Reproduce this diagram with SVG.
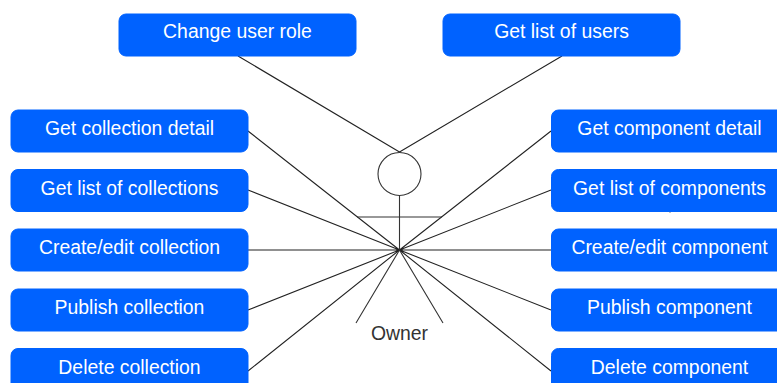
<svg xmlns="http://www.w3.org/2000/svg" width="777" height="383" viewBox="0 0 777 383">
<style>
.b{fill:#0062ff;stroke:#0062ff;stroke-width:1}
.t{fill:#fff;font:19.4px "Liberation Sans",Arial,sans-serif;text-anchor:middle}
.l{stroke:#222;stroke-width:1.1;fill:none}
</style>
<rect width="777" height="383" fill="#fff"/>
<g id="connectors" class="l">
<path d="M238 56L399.500 152M562 56L399.500 152M248 131L399.500 250M248 190L399.500 250M248 250H399.500M248 310L399.500 250M248 371L399.500 250M551 131L399.500 250M551 190L399.500 250M551 250H399.500M551 310L399.500 250M551 371L399.500 250M670 211.500V212.500"/>
</g>
<g id="actor">
<circle cx="399.500" cy="174" r="21.500" fill="#fff" stroke="#333" stroke-width="1.100"/>
<path d="M399.500 195.500V250M357 217H442M399.500 250L356 323M399.500 250L443 323" fill="none" stroke="#333" stroke-width="1.100"/>
<text x="399.500" y="340" font-family="Liberation Sans, Arial, sans-serif" font-size="19.400" fill="#333" text-anchor="middle">Owner</text>
</g>
<g id="n1"><rect class="b" x="119" y="14" width="237" height="42" rx="7"/><text class="t" x="237.500" y="38">Change user role</text></g>
<g id="n2"><rect class="b" x="443" y="14" width="237" height="42" rx="7"/><text class="t" x="561.500" y="38">Get list of users</text></g>
<g id="n3"><rect class="b" x="11" y="110" width="237" height="42" rx="7"/><text class="t" x="129.500" y="135">Get collection detail</text></g>
<g id="n4"><rect class="b" x="11" y="169.500" width="237" height="42" rx="7"/><text class="t" x="129.500" y="195">Get list of collections</text></g>
<g id="n5"><rect class="b" x="11" y="229" width="237" height="42" rx="7"/><text class="t" x="129.500" y="254">Create/edit collection</text></g>
<g id="n6"><rect class="b" x="11" y="289" width="237" height="42" rx="7"/><text class="t" x="129.500" y="314">Publish collection</text></g>
<g id="n7"><rect class="b" x="11" y="348.500" width="237" height="42" rx="7"/><text class="t" x="129.500" y="374">Delete collection</text></g>
<g id="n8"><rect class="b" x="551.500" y="110" width="237" height="42" rx="7"/><text class="t" x="669.500" y="135">Get component detail</text></g>
<g id="n9"><rect class="b" x="551.500" y="169.500" width="237" height="42" rx="7"/><text class="t" x="669.500" y="195">Get list of components</text></g>
<g id="n10"><rect class="b" x="551.500" y="229" width="237" height="42" rx="7"/><text class="t" x="669.500" y="254">Create/edit component</text></g>
<g id="n11"><rect class="b" x="551.500" y="289" width="237" height="42" rx="7"/><text class="t" x="669.500" y="314">Publish component</text></g>
<g id="n12"><rect class="b" x="551.500" y="348.500" width="237" height="42" rx="7"/><text class="t" x="669.500" y="374">Delete component</text></g>
</svg>
